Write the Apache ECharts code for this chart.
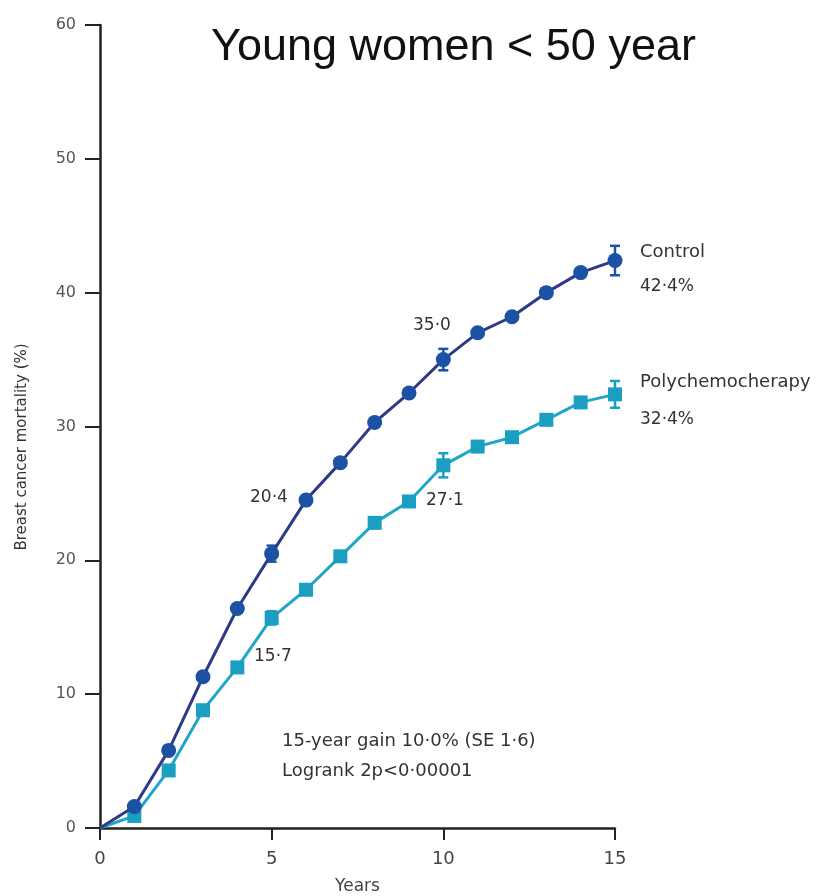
<!DOCTYPE html>
<html>
<head>
<meta charset="utf-8">
<script src="https://cdn.jsdelivr.net/npm/echarts@6/dist/echarts.min.js"></script>
<style>html,body{margin:0;padding:0;background:#fff;}#c{width:819px;height:896px;}</style>
</head>
<body>
<div id="c"></div>
<script>
var years = [0,1,2,3,4,5,6,7,8,9,10,11,12,13,14,15];
var controlValues = [0,1.6,5.8,11.3,16.4,20.5,24.5,27.3,30.3,32.5,35.0,37.0,38.2,40.0,41.5,42.4];
var polyValues    = [0,0.9,4.3,8.8,12.0,15.7,17.8,20.3,22.8,24.4,27.1,28.5,29.2,30.5,31.8,32.4];
// error bars: [year, low, high]
var controlErrors = [[5,19.9,21.1],[10,34.2,35.8],[15,41.3,43.5]];
var polyErrors    = [[5,15.2,16.2],[10,26.2,28.0],[15,31.4,33.4]];
var xTicks = [0,5,10,15];
var yTicks = [0,10,20,30,40,50,60];

var controlColor = '#1b52a3';
var controlLine = '#2e3a88';
var polyColor = '#1a9fc3';
var polyLine = '#22a6c8';
var txtFont = '"DejaVu Sans", "Noto Sans", sans-serif';

function pairs(vals){
  return years.map(function(y,i){
    return i === 0 ? {value:[y, vals[i]], symbol:'none'} : [y, vals[i]];
  });
}

function errSeries(data, color){
  return {
    type: 'custom',
    z: 4,
    renderItem: function(params, api){
      var x = api.value(0);
      var lo = api.coord([x, api.value(1)]);
      var hi = api.coord([x, api.value(2)]);
      var w = 5;
      var st = {stroke: color, lineWidth: 2.5};
      return {type:'group', children:[
        {type:'line', shape:{x1:lo[0],y1:lo[1],x2:hi[0],y2:hi[1]}, style:st},
        {type:'line', shape:{x1:lo[0]-w,y1:lo[1],x2:lo[0]+w,y2:lo[1]}, style:st},
        {type:'line', shape:{x1:hi[0]-w,y1:hi[1],x2:hi[0]+w,y2:hi[1]}, style:st}
      ]};
    },
    data: data
  };
}

var chart = echarts.init(document.getElementById('c'), null, {renderer:'canvas'});
var txt = function(t, x, y, size){
  return {type:'text', left:x, top:y, style:{text:t, font: size+'px '+txtFont, fill:'#333'}};
};
chart.setOption({
  animation: false,
  backgroundColor: '#ffffff',
  title: {
    text: 'Young women < 50 year',
    left: 206, top: 20,
    textStyle: {fontFamily: '"Liberation Sans", Arial, sans-serif', fontSize: 45, fontWeight: 'normal', color: '#111'}
  },
  grid: {left: 100, right: 204, top: 25, bottom: 68, containLabel: false, outerBoundsMode: 'none'},
  xAxis: {
    type: 'value', min: 0, max: 15, interval: 5,
    axisLine: {onZero:false, lineStyle: {color: '#222', width: 2.5}},
    axisTick: {show: true, length: 12, lineStyle:{color:'#222', width: 2}},
    axisLabel: {margin: 22, fontFamily: txtFont, fontSize: 18, color: '#444',
      formatter: function(v){ return xTicks.indexOf(v) >= 0 ? String(v) : ''; }},
    splitLine: {show:false},
    name: 'Years', nameLocation: 'middle', nameGap: 50,
    nameTextStyle: {fontFamily: txtFont, fontSize: 17, color: '#444'}
  },
  yAxis: {
    type: 'value', min: 0, max: 60, interval: 10,
    axisLine: {show:true, lineStyle: {color: '#222', width: 2.5}},
    axisTick: {show: true, length: 15, lineStyle:{color:'#222', width: 2}},
    axisLabel: {margin: 24, fontFamily: txtFont, fontSize: 16, color: '#555',
      formatter: function(v){ return yTicks.indexOf(v) >= 0 ? String(v) : ''; }},
    splitLine: {show:false}
  },
  graphic: [
    {type:'text', x:22, y:447, rotation: Math.PI/2, style:{text:'Breast cancer mortality (%)', font:'15px '+txtFont, fill:'#333', textAlign:'center', textVerticalAlign:'middle'}},
    txt('Control', 640, 243, 18),
    txt('42·4%', 640, 278, 17),
    txt('Polychemocherapy', 640, 373, 18),
    txt('32·4%', 640, 411, 17),
    txt('35·0', 413, 317, 17),
    txt('20·4', 250, 489, 17),
    txt('27·1', 426, 492, 17),
    txt('15·7', 254, 648, 17),
    txt('15-year gain 10·0% (SE 1·6)', 282, 732, 18),
    txt('Logrank 2p<0·00001', 282, 762, 18)
  ],
  series: [
    {
      name: 'Control', type: 'line', data: pairs(controlValues), z: 5,
      symbol: 'circle', symbolSize: 15, showSymbol: true,
      lineStyle: {color: controlLine, width: 3},
      itemStyle: {color: controlColor},
      emphasis: {disabled: true}
    },
    {
      name: 'Polychemotherapy', type: 'line', data: pairs(polyValues), z: 3,
      symbol: 'rect', symbolSize: 14, showSymbol: true,
      lineStyle: {color: polyLine, width: 3},
      itemStyle: {color: polyColor},
      emphasis: {disabled: true}
    },
    errSeries(controlErrors, controlColor),
    errSeries(polyErrors, polyColor)
  ]
});
</script>
</body>
</html>
